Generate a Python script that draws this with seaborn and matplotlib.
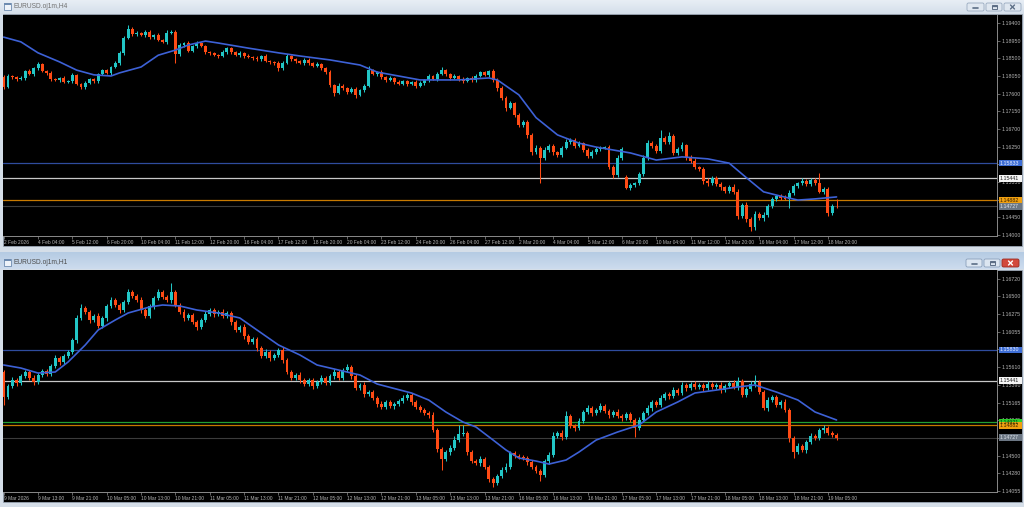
import numpy as np
import matplotlib
matplotlib.use("Agg")
import matplotlib.pyplot as plt
import matplotlib.transforms as mtransforms
from matplotlib.patches import Rectangle, FancyBboxPatch
from matplotlib.colors import LinearSegmentedColormap
import seaborn as sns

# ---------------- data: EURUSD H4 (upper window) ----------------
h4_first_open = 1.1802
h4_gap_open = {145: 1.1548}          # weekend gap (9 Mar open)
h4_close = [
    1.1777, 1.1805, 1.1802, 1.1797, 1.1800, 1.1818, 1.1810, 1.1825, 1.1836, 1.1818, 1.1813, 1.1797, 1.1795, 1.1800, 1.1790,
    1.1792, 1.1808, 1.1785, 1.1777, 1.1787, 1.1797, 1.1792, 1.1810, 1.1820, 1.1813, 1.1828, 1.1838, 1.1864, 1.1902, 1.1925,
    1.1912, 1.1915, 1.1909, 1.1917, 1.1904, 1.1909, 1.1897, 1.1892, 1.1915, 1.1917, 1.1861, 1.1884, 1.1889, 1.1869, 1.1881,
    1.1889, 1.1881, 1.1866, 1.1864, 1.1858, 1.1856, 1.1866, 1.1876, 1.1866, 1.1858, 1.1864, 1.1856, 1.1853, 1.1851, 1.1848,
    1.1856, 1.1843, 1.1841, 1.1838, 1.1825, 1.1838, 1.1856, 1.1848, 1.1843, 1.1838, 1.1846, 1.1838, 1.1831, 1.1836, 1.1825,
    1.1815, 1.1782, 1.1762, 1.1780, 1.1774, 1.1764, 1.1772, 1.1757, 1.1769, 1.1780, 1.1820, 1.1810, 1.1815, 1.1802, 1.1795,
    1.1800, 1.1790, 1.1785, 1.1792, 1.1785, 1.1790, 1.1780, 1.1787, 1.1795, 1.1805, 1.1797, 1.1810, 1.1820, 1.1810, 1.1800,
    1.1805, 1.1797, 1.1792, 1.1800, 1.1795, 1.1805, 1.1815, 1.1808, 1.1818, 1.1795, 1.1774, 1.1749, 1.1724, 1.1736, 1.1706,
    1.1680, 1.1688, 1.1655, 1.1611, 1.1622, 1.1596, 1.1617, 1.1627, 1.1611, 1.1604, 1.1622, 1.1637, 1.1642, 1.1627, 1.1634,
    1.1617, 1.1601, 1.1611, 1.1619, 1.1622, 1.1624, 1.1573, 1.1553, 1.1596, 1.1619, 1.1520, 1.1527, 1.1532, 1.1555, 1.1596,
    1.1634, 1.1627, 1.1614, 1.1647, 1.1637, 1.1652, 1.1609, 1.1619, 1.1629, 1.1599, 1.1589, 1.1573, 1.1568, 1.1538, 1.1532,
    1.1546, 1.1530, 1.1522, 1.1512, 1.1522, 1.1510, 1.1449, 1.1477, 1.1441, 1.1420, 1.1454, 1.1443, 1.1451, 1.1474, 1.1492,
    1.1499, 1.1495, 1.1492, 1.1507, 1.1525, 1.1532, 1.1538, 1.1530, 1.1540, 1.1532, 1.1510, 1.1517, 1.1456, 1.14746, 1.14727,
]
# wick lengths beyond the body, in pips
h4_wick_up = [
    5, 4, 3, 2, 4, 3, 5, 3, 4, 2, 3, 4, 2, 3, 5,
    3, 4, 2, 3, 5, 3, 4, 3, 2, 4, 3, 5, 4, 6, 10,
    4, 5, 3, 6, 4, 3, 5, 3, 6, 4, 5, 4, 3, 5, 4,
    6, 3, 4, 2, 3, 4, 5, 3, 4, 3, 5, 2, 4, 3, 4,
    3, 5, 2, 3, 4, 6, 5, 3, 4, 3, 5, 4, 3, 4, 3,
    4, 5, 3, 6, 4, 3, 5, 4, 3, 5, 11, 4, 3, 5, 3,
    4, 3, 5, 3, 4, 3, 4, 5, 3, 4, 3, 5, 8, 4, 3,
    4, 3, 5, 3, 4, 5, 3, 4, 3, 6, 4, 5, 4, 6, 3,
    5, 4, 6, 5, 7, 5, 6, 4, 5, 4, 6, 8, 5, 4, 6,
    4, 5, 6, 4, 5, 4, 6, 5, 7, 4, 6, 5, 4, 6, 7,
    8, 5, 6, 21, 4, 11, 6, 5, 7, 4, 5, 6, 4, 5, 6,
    4, 5, 6, 4, 5, 7, 6, 5, 7, 4, 6, 5, 7, 6, 5,
    4, 5, 6, 7, 5, 4, 6, 5, 4, 5, 26, 5, 6, 4, 17,
]
h4_wick_dn = [
    4, 3, 5, 4, 3, 4, 3, 5, 4, 3, 5, 4, 3, 4, 3,
    4, 5, 3, 6, 4, 3, 5, 4, 3, 4, 5, 3, 4, 5, 3,
    5, 4, 3, 5, 4, 6, 3, 4, 5, 3, 23, 4, 5, 3, 4,
    5, 3, 4, 5, 3, 4, 3, 5, 4, 3, 4, 5, 3, 4, 5,
    4, 3, 5, 4, 8, 4, 3, 5, 4, 3, 4, 5, 3, 4, 5,
    4, 6, 8, 4, 5, 4, 3, 8, 4, 5, 4, 3, 4, 5, 4,
    3, 5, 4, 3, 5, 4, 6, 3, 4, 5, 3, 4, 3, 5, 4,
    3, 5, 4, 3, 4, 5, 3, 4, 5, 4, 6, 5, 7, 4, 6,
    5, 4, 7, 8, 5, 64, 6, 5, 7, 6, 5, 4, 6, 5, 4,
    5, 6, 4, 5, 6, 4, 5, 7, 6, 5, 4, 6, 5, 4, 5,
    4, 6, 5, 4, 6, 5, 4, 6, 5, 7, 5, 6, 5, 7, 6,
    5, 6, 7, 5, 6, 5, 8, 6, 7, 9, 6, 5, 7, 6, 5,
    6, 5, 4, 23, 5, 6, 4, 5, 6, 5, 4, 6, 7, 5, 3,
]
h4_ma_bar = [0, 4, 8, 13, 17, 21, 25, 27, 32, 36, 40, 43, 47, 50, 57, 64, 69, 76, 83, 87,
             97, 106, 113, 115, 120, 124, 129, 134, 138, 146, 152, 158, 164, 169, 173, 177, 181, 185, 189, 194]
h4_ma = [1.1904, 1.1892, 1.1864, 1.1841, 1.1820, 1.1808, 1.1805, 1.1813, 1.1828, 1.1858,
         1.1871, 1.1884, 1.1894, 1.1889, 1.1876, 1.1864, 1.1856, 1.1846, 1.1833, 1.1815,
         1.1795, 1.1795, 1.1800, 1.1795, 1.1757, 1.1699, 1.1655, 1.1634, 1.1624, 1.1609,
         1.1591, 1.1599, 1.1594, 1.1583, 1.1546, 1.1510, 1.1499, 1.1489, 1.1492, 1.1497]
h4_yticks = [1.19400, 1.18950, 1.18500, 1.18050, 1.17600, 1.17150, 1.16700,
             1.16250, 1.15800, 1.15350, 1.14900, 1.14450, 1.14000]
h4_xlabels = ["2 Feb 2026", "4 Feb 04:00", "5 Feb 12:00", "6 Feb 20:00", "10 Feb 04:00", "11 Feb 12:00",
              "12 Feb 20:00", "16 Feb 04:00", "17 Feb 12:00", "18 Feb 20:00", "20 Feb 04:00", "23 Feb 12:00",
              "24 Feb 20:00", "26 Feb 04:00", "27 Feb 12:00", "2 Mar 20:00", "4 Mar 04:00", "5 Mar 12:00",
              "6 Mar 20:00", "10 Mar 04:00", "11 Mar 12:00", "12 Mar 20:00", "16 Mar 04:00", "17 Mar 12:00",
              "18 Mar 20:00"]
h4_levels = [1.15833, 1.15441, 1.14882, 1.14727]
h4_level_kind = ["blue", "white", "orange", "bid"]
h4_header = "▼ EURUSD.oj1m,H4  1.14746 1.14912 1.14701 1.14727"

# ---------------- data: EURUSD H1 (lower window) ----------------
h1_first_open = 1.15551
h1_gap_open = {}
h1_close = [
    1.15237, 1.15375, 1.15451, 1.15413, 1.15501, 1.15551, 1.15476, 1.15426, 1.15513, 1.15563, 1.15526, 1.15626, 1.15727, 1.15677, 1.15752,
    1.15803, 1.15954, 1.16230, 1.16355, 1.16305, 1.16205, 1.16255, 1.16129, 1.16230, 1.16381, 1.16456, 1.16393, 1.16330, 1.16431, 1.16556,
    1.16506, 1.16456, 1.16330, 1.16255, 1.16381, 1.16481, 1.16556, 1.16494, 1.16456, 1.16556, 1.16393, 1.16305, 1.16230, 1.16268, 1.16180,
    1.16117, 1.16205, 1.16280, 1.16330, 1.16280, 1.16305, 1.16255, 1.16293, 1.16180, 1.16079, 1.16117, 1.16004, 1.15928, 1.15966, 1.15853,
    1.15752, 1.15803, 1.15727, 1.15765, 1.15828, 1.15702, 1.15551, 1.15476, 1.15513, 1.15451, 1.15400, 1.15451, 1.15375, 1.15426, 1.15476,
    1.15413, 1.15501, 1.15551, 1.15476, 1.15576, 1.15614, 1.15501, 1.15350, 1.15388, 1.15274, 1.15299, 1.15224, 1.15149, 1.15111, 1.15174,
    1.15124, 1.15149, 1.15187, 1.15224, 1.15262, 1.15174, 1.15111, 1.15073, 1.15036, 1.15011, 1.14822, 1.14583, 1.14457, 1.14545, 1.14596,
    1.14696, 1.14772, 1.14784, 1.14545, 1.14432, 1.14407, 1.14457, 1.14357, 1.14206, 1.14156, 1.14244, 1.14319, 1.14357, 1.14533, 1.14495,
    1.14483, 1.14470, 1.14420, 1.14357, 1.14307, 1.14256, 1.14432, 1.14508, 1.14747, 1.14784, 1.14734, 1.14998, 1.14872, 1.14847, 1.14935,
    1.15048, 1.15098, 1.15036, 1.15073, 1.15124, 1.15061, 1.15011, 1.15048, 1.14998, 1.14973, 1.15023, 1.14948, 1.14847, 1.14948, 1.15036,
    1.15098, 1.15174, 1.15136, 1.15224, 1.15274, 1.15249, 1.15324, 1.15287, 1.15388, 1.15350, 1.15400, 1.15363, 1.15388, 1.15350, 1.15400,
    1.15363, 1.15388, 1.15324, 1.15375, 1.15413, 1.15363, 1.15438, 1.15262, 1.15337, 1.15400, 1.15426, 1.15299, 1.15098, 1.15199, 1.15237,
    1.15136, 1.15174, 1.15073, 1.14721, 1.14545, 1.14621, 1.14571, 1.14671, 1.14747, 1.14721, 1.14822, 1.14847, 1.14784, 1.14759, 1.14727,
]
h1_wick_up = [
    3, 2, 4, 2, 3, 2, 3, 4, 2, 3, 2, 3, 4, 2, 3,
    2, 3, 4, 5, 3, 2, 3, 4, 2, 3, 4, 3, 2, 3, 4,
    3, 2, 4, 3, 2, 3, 4, 2, 3, 11, 3, 2, 4, 3, 2,
    3, 2, 4, 3, 2, 3, 4, 2, 3, 2, 3, 4, 2, 3, 2,
    3, 4, 2, 3, 2, 4, 3, 2, 3, 4, 2, 3, 2, 3, 4,
    2, 3, 4, 2, 3, 4, 2, 3, 2, 4, 3, 2, 3, 4, 2,
    3, 2, 3, 4, 2, 3, 2, 3, 2, 3, 4, 3, 2, 3, 4,
    5, 11, 10, 3, 2, 3, 4, 2, 3, 2, 3, 4, 5, 3, 2,
    3, 2, 3, 2, 3, 2, 3, 4, 5, 3, 4, 6, 3, 2, 4,
    3, 4, 2, 3, 4, 2, 3, 2, 4, 3, 2, 3, 2, 4, 3,
    4, 3, 2, 4, 3, 2, 4, 3, 4, 2, 3, 4, 2, 3, 4,
    2, 3, 4, 2, 3, 4, 5, 3, 2, 4, 9, 3, 2, 4, 3,
    2, 3, 4, 3, 2, 4, 3, 2, 4, 3, 2, 4, 3, 2, 3,
]
h1_wick_dn = [
    10, 3, 2, 4, 3, 2, 3, 4, 2, 3, 2, 3, 2, 4, 3,
    3, 2, 4, 3, 2, 4, 3, 2, 3, 4, 2, 3, 4, 2, 3,
    2, 3, 4, 3, 2, 4, 3, 2, 3, 4, 2, 3, 4, 2, 3,
    4, 2, 3, 2, 4, 3, 2, 3, 4, 2, 3, 4, 2, 3, 4,
    2, 3, 4, 2, 3, 4, 3, 2, 3, 4, 2, 3, 4, 2, 3,
    3, 2, 4, 3, 2, 3, 4, 2, 3, 4, 2, 3, 4, 3, 2,
    3, 4, 2, 3, 2, 4, 3, 2, 3, 4, 3, 4, 14, 3, 4,
    3, 2, 3, 4, 3, 2, 4, 3, 4, 5, 3, 2, 3, 2, 3,
    2, 3, 4, 3, 2, 8, 3, 4, 2, 3, 4, 2, 3, 4, 2,
    3, 2, 4, 3, 2, 3, 4, 2, 3, 4, 2, 3, 11, 3, 2,
    3, 4, 2, 3, 2, 4, 3, 2, 3, 4, 2, 3, 2, 4, 3,
    2, 3, 4, 2, 3, 2, 4, 3, 2, 3, 4, 2, 3, 4, 2,
    3, 4, 2, 5, 8, 3, 2, 4, 3, 2, 3, 4, 2, 3, 3,
]
h1_ma_bar = [0, 4, 8, 12, 15, 19, 22, 26, 29, 34, 37, 41, 45, 50, 55, 59, 64, 69, 73, 78, 83, 87, 95, 99,
             103, 107, 110, 114, 117, 120, 124, 126, 127, 131, 134, 138, 143, 148, 152, 157, 161, 166, 171,
             175, 180, 185, 189, 194]
h1_ma = [1.15639, 1.15601, 1.15538, 1.15551, 1.15677, 1.15891, 1.16079, 1.16205, 1.16293, 1.16368,
         1.16393, 1.16381, 1.16330, 1.16293, 1.16230, 1.16079, 1.15891, 1.15765, 1.15639, 1.15576,
         1.15513, 1.15400, 1.15287, 1.15199, 1.15048, 1.14922, 1.14860, 1.14696, 1.14571, 1.14470,
         1.14432, 1.14407, 1.14394, 1.14445, 1.14545, 1.14696, 1.14797, 1.14885, 1.15048, 1.15174,
         1.15287, 1.15324, 1.15363, 1.15388, 1.15299, 1.15199, 1.15048, 1.14948]
h1_yticks = [1.16720, 1.16500, 1.16275, 1.16055, 1.15835, 1.15610, 1.15390,
             1.15165, 1.14945, 1.14725, 1.14500, 1.14280, 1.14055]
h1_xlabels = ["9 Mar 2026", "9 Mar 13:00", "9 Mar 21:00", "10 Mar 05:00", "10 Mar 13:00", "10 Mar 21:00",
              "11 Mar 05:00", "11 Mar 13:00", "11 Mar 21:00", "12 Mar 05:00", "12 Mar 13:00", "12 Mar 21:00",
              "13 Mar 05:00", "13 Mar 13:00", "13 Mar 21:00", "16 Mar 05:00", "16 Mar 13:00", "16 Mar 21:00",
              "17 Mar 05:00", "17 Mar 13:00", "17 Mar 21:00", "18 Mar 05:00", "18 Mar 13:00", "18 Mar 21:00",
              "19 Mar 05:00"]
h1_levels = [1.15830, 1.15441, 1.14921, 1.14882, 1.14727]
h1_level_kind = ["blue", "white", "green", "orange", "bid"]
h1_header = "EURUSD.oj1m,H1  1.14746 1.14767 1.14701 1.14727"

# ---------------- styling ----------------
sns.set_style("dark")
plt.rcParams['font.family'] = ['Liberation Sans', 'Noto Sans CJK JP', 'DejaVu Sans']

W, H = 1024, 507
BULL = '#22c6c6'
BEAR = '#ff4b14'
BAR_PX = 4.293      # pixels per bar
BAR0_PX = 3.7       # pixel position of first bar (relative to figure)
LABEL_STEP = 8
LEVEL_STYLE = {
    "blue":   dict(line='#2f4c9e', box='#3f6fd6', text='#e8eeff', lw=0.9),
    "white":  dict(line='#c8c8c8', box='#f4f4f4', text='#202020', lw=0.9),
    "orange": dict(line='#c87a00', box='#f0a010', text='#3a2200', lw=0.9),
    "green":  dict(line='#23a032', box='#2ccf2c', text='#0b3a0b', lw=0.9),
    "bid":    dict(line='#3c3c3c', box='#6c7784', text='#dde3ea', lw=0.8),
}

fig = plt.figure(figsize=(W / 100, H / 100), dpi=100)
fig.patch.set_facecolor('#d5dee8')
bg = fig.add_axes([0, 0, 1, 1])
bg.axis('off')


def set_bg_limits():
    bg.set_xlim(0, W)
    bg.set_ylim(H, 0)


def gradient(y0, y1, c_top, c_bot):
    cmap = LinearSegmentedColormap.from_list('g', [c_top, c_bot])
    grad = np.linspace(0, 1, 32).reshape(-1, 1)
    bg.imshow(grad, cmap=cmap, extent=(0, W, y1, y0), aspect='auto', zorder=1)


def button(x0, x1, y0, y1, fc, ec, kind, mark='#5c6e86'):
    bg.add_patch(FancyBboxPatch((x0, y0), x1 - x0, y1 - y0,
                                boxstyle='round,pad=0,rounding_size=1.6',
                                fc=fc, ec=ec, lw=0.6, zorder=3))
    cx, cy = (x0 + x1) / 2, (y0 + y1) / 2
    if kind == 'min':
        bg.plot([cx - 2.5, cx + 2.5], [cy + 1.2, cy + 1.2], color=mark, lw=1.2, zorder=4)
    elif kind == 'max':
        bg.add_patch(Rectangle((cx - 2.5, cy - 2), 5, 4, fc='none', ec=mark, lw=0.7, zorder=4))
        bg.plot([cx - 2.5, cx + 2.5], [cy - 1.4, cy - 1.4], color=mark, lw=0.9, zorder=4)
    else:
        bg.plot([cx - 2, cx + 2], [cy - 2, cy + 2], color=mark, lw=1.0, zorder=4)
        bg.plot([cx - 2, cx + 2], [cy + 2, cy - 2], color=mark, lw=1.0, zorder=4)


def icon(y):
    bg.add_patch(Rectangle((3.5, y), 7.5, 6.5, fc='#eef3f9', ec='#6d8bb0', lw=0.6, zorder=3))
    bg.add_patch(Rectangle((3.5, y), 7.5, 1.8, fc='#6d8bb0', ec='none', zorder=4))


# window chrome
bg.add_patch(Rectangle((0, 0), W, H, fc='#d5dee8', ec='none', zorder=0))
gradient(0, 13.5, '#e9eff6', '#d6e0eb')
gradient(252.5, 269.5, '#b5cbe3', '#cddcee')
bg.add_patch(Rectangle((2.5, 13.5), 1019, 232, fc='black', ec='#9aa6b4', lw=0.6, zorder=2))
bg.add_patch(Rectangle((2.5, 269.5), 1019, 232.5, fc='black', ec='#9aa6b4', lw=0.6, zorder=2))
icon(3)
icon(259)
bg.text(14, 7, "EURUSD.oj1m,H4", fontsize=4.8, color='#707070', va='center', ha='left', zorder=5)
bg.text(14, 263, "EURUSD.oj1m,H1", fontsize=4.8, color='#4c4c4c', va='center', ha='left', zorder=5)
button(967, 984, 3, 11, '#dfe7f0', '#9aabc0', 'min')
button(986, 1002, 3, 11, '#dfe7f0', '#9aabc0', 'max')
button(1004, 1021, 3, 11, '#dfe7f0', '#9aabc0', 'close')
button(966, 982, 259, 267, '#dce6f1', '#8aa0bb', 'min')
button(984, 1000, 259, 267, '#dce6f1', '#8aa0bb', 'max')
button(1002, 1019, 259, 267, '#d2493c', '#9c2a20', 'close', mark='white')

# chart overlay texts
for top, header, tf, tf_color in [(15, h4_header, "H4", '#ff9c00'), (270, h1_header, "H1", '#29a64d')]:
    bg.text(5, top + 4.5, header, fontsize=3.6, color='#9a9a9a', va='center', ha='left', zorder=6,
            family=['Liberation Sans', 'DejaVu Sans'])
    bg.text(4, top + 13.5, "EUR USD", fontsize=9, color='#d6ad00', va='center', ha='left', zorder=6)
    bg.text(69, top + 13.5, "メイン", fontsize=9, color='white', va='center', ha='left', zorder=6,
            family=['Noto Sans CJK JP', 'DejaVu Sans'])
    bg.text(994, top + 11, tf, fontsize=12.5, color=tf_color, va='center', ha='right', zorder=6)

set_bg_limits()


def draw_chart(y_px, h_px, ylim, first_open, gap_open, closes, wick_up, wick_dn,
               ma_bar, ma_val, yticks, xlabels, levels, level_kind):
    ax = fig.add_axes([3 / W, 1 - (y_px + h_px) / H, 994 / W, h_px / H])
    ax.set_facecolor('black')
    ax.grid(False)
    ax.set_xlim((3 - BAR0_PX) / BAR_PX, (997 - BAR0_PX) / BAR_PX)
    ax.set_ylim(*ylim)

    c = np.array(closes)
    o = np.concatenate([[first_open], c[:-1]])
    for i, v in gap_open.items():
        o[i] = v
    hi = np.maximum(o, c) + np.array(wick_up) * 1e-4
    lo = np.minimum(o, c) - np.array(wick_dn) * 1e-4
    x = np.arange(len(c))
    col = np.where(c >= o, BULL, BEAR)
    ppx = (ylim[1] - ylim[0]) / h_px

    # level lines under the candles
    for v, k in zip(levels, level_kind):
        st = LEVEL_STYLE[k]
        ax.axhline(v, color=st['line'], lw=st['lw'], zorder=1)

    ax.vlines(x, lo, hi, colors=col, lw=0.75, zorder=2)
    body = np.maximum(np.abs(c - o), 0.6 * ppx)
    ax.bar(x, body, bottom=np.minimum(o, c), width=0.68, color=col, linewidth=0, zorder=3)

    sns.lineplot(x=ma_bar, y=ma_val, ax=ax, color='#3d61d6', linewidth=1.2,
                 estimator=None, sort=False, legend=False, zorder=4)
    ax.set_xlabel('')
    ax.set_ylabel('')

    # axes frame: bottom and right only
    for side in ['top', 'left']:
        ax.spines[side].set_visible(False)
    for side in ['bottom', 'right']:
        ax.spines[side].set_visible(True)
        ax.spines[side].set_color('#8a8a8a')
        ax.spines[side].set_linewidth(0.7)

    ax.yaxis.tick_right()
    ax.set_yticks(yticks)
    ax.set_yticklabels([f"{v:.5f}" for v in yticks])
    ax.tick_params(axis='y', which='both', right=True, left=False, labelright=True, labelleft=False,
                   length=2, width=0.5, colors='#8a8a8a', labelcolor='#b4b4b4', labelsize=3.8, pad=1)

    ax.set_xticks(np.arange(len(xlabels)) * LABEL_STEP)
    ax.set_xticklabels(xlabels)
    ax.tick_params(axis='x', which='both', bottom=True, top=False, length=2, width=0.5,
                   colors='#8a8a8a', labelcolor='#b4b4b4', labelsize=3.5, pad=1.2)
    for lab in ax.get_xticklabels():
        lab.set_horizontalalignment('left')

    # price labels for the levels on the price scale
    trans = mtransforms.blended_transform_factory(ax.transAxes, ax.transData)
    bx0 = 995.5 / 994
    bx1 = 1018.5 / 994
    for v, k in zip(levels, level_kind):
        st = LEVEL_STYLE[k]
        ax.add_patch(Rectangle((bx0, v - 3.3 * ppx), bx1 - bx0, 6.6 * ppx, transform=trans,
                               fc=st['box'], ec='none', clip_on=False, zorder=8))
        ax.text(bx0 + 0.0015, v, f"{v:.5f}", transform=trans, fontsize=3.8, color=st['text'],
                va='center', ha='left', clip_on=False, zorder=9)
    return ax


draw_chart(15, 221, (1.13975, 1.19604), h4_first_open, h4_gap_open, h4_close, h4_wick_up, h4_wick_dn,
           h4_ma_bar, h4_ma, h4_yticks, h4_xlabels, h4_levels, h4_level_kind)
draw_chart(270, 222, (1.14043, 1.16833), h1_first_open, h1_gap_open, h1_close, h1_wick_up, h1_wick_dn,
           h1_ma_bar, h1_ma, h1_yticks, h1_xlabels, h1_levels, h1_level_kind)

fig.savefig('out.png', dpi=100, facecolor=fig.get_facecolor())
